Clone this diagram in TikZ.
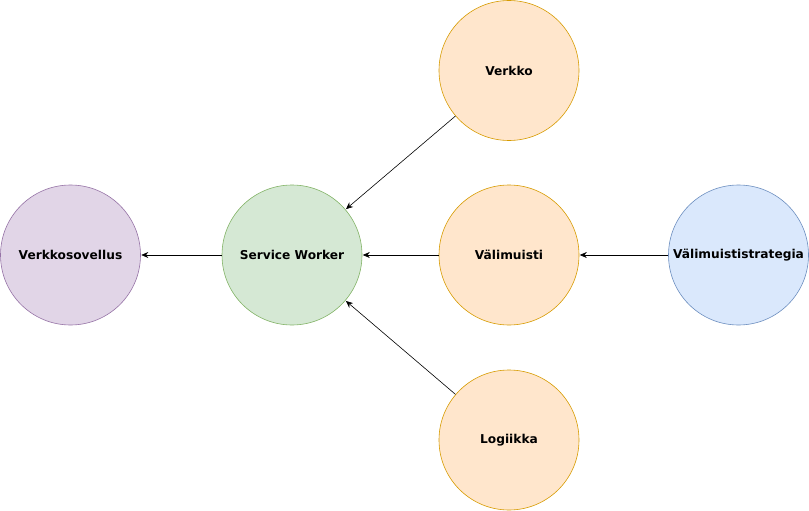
\documentclass[tikz,border=0pt]{standalone}
\usepackage{fontspec}
\setmainfont{DejaVu Sans}
\usetikzlibrary{arrows.meta}
\definecolor{purplefill}{HTML}{E1D5E7}\definecolor{purpleline}{HTML}{9673A6}
\definecolor{greenfill}{HTML}{D5E8D4}\definecolor{greenline}{HTML}{82B366}
\definecolor{orangefill}{HTML}{FFE6CC}\definecolor{orangeline}{HTML}{D79B00}
\definecolor{bluefill}{HTML}{DAE8FC}\definecolor{blueline}{HTML}{6C8EBF}
\tikzset{
	ball/.style={circle, minimum size=140pt, inner sep=0pt, line width=0.6pt, font=\bfseries\fontsize{12.2}{14}\selectfont},
	feed/.style={-{Stealth[length=7pt,width=6pt]}, line width=0.6pt, shorten >=0.5pt}
}
\begin{document}
\begin{tikzpicture}[x=1pt, y=-1pt]
		%%%%% START %%%%%
		\useasboundingbox (0, 0) rectangle (809, 511);
		
		\node[ball, fill=purplefill, draw=purpleline] (app) at (70.5, 255) {Verkkosovellus};
		\node[ball, fill=greenfill, draw=greenline] (worker) at (292, 255) {Service Worker};
		
		\node[ball, fill=orangefill, draw=orangeline] (net) at (509, 70.5) {Verkko};
		\node[ball, fill=orangefill, draw=orangeline] (cache) at (509, 255) {Välimuisti};
		\node[ball, fill=orangefill, draw=orangeline] (logic) at (509, 440) {Logiikka};
		
		\node[ball, fill=bluefill, draw=blueline] (strategy) at (738.5, 255) {Välimuististrategia};
		
		\draw[feed] (worker) -- (app);
		\draw[feed] (net) -- (worker);
		\draw[feed] (cache) -- (worker);
		\draw[feed] (logic) -- (worker);
		\draw[feed] (strategy) -- (cache);
		
		%%%%% END %%%%%
	\end{tikzpicture}
\end{document}
